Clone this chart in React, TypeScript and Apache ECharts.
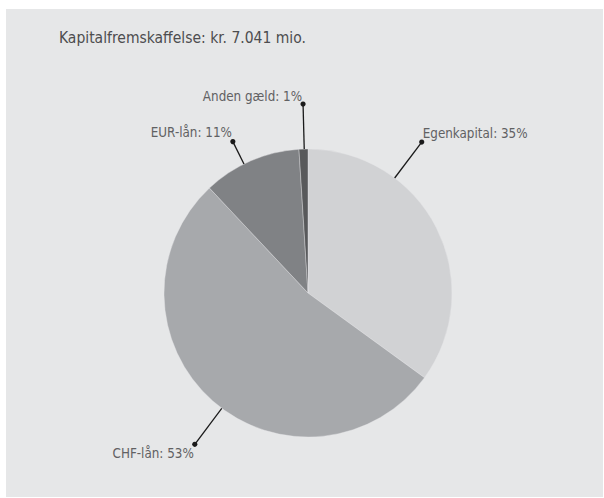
import React, { useEffect, useRef } from "react";
import * as echarts from "echarts";

const TITLE = "Kapitalfremskaffelse: kr. 7.041 mio.";
const categories = ["Egenkapital", "CHF-lån", "EUR-lån", "Anden gæld"];
const shares = [35, 53, 11, 1];

const SLICE_COLORS = ["#d1d2d4", "#a7a9ac", "#808285", "#58595b"];
const W = 604;
const H = 498;
const CX = 308;
const CY = 293;
const R = 144;
const FONT = "'DejaVu Sans Condensed', 'Liberation Sans Narrow', 'Noto Sans', sans-serif";

// per-label leader layout: angle shift from slice middle (deg), dot distance, text placement
const LEADER = [
  { shift: -26, dist: 189, align: "left", dx: 1, dy: -9 },
  { shift: -4.6, dist: 189, align: "right", dx: -1, dy: 9 },
  { shift: -3, dist: 169, align: "right", dx: -1, dy: -9 },
  { shift: 0.3, dist: 189, align: "right", dx: -1, dy: -8 },
];

function buildGraphics() {
  const total = shares.reduce((a, b) => a + b, 0);
  const els: any[] = [
    {
      type: "rect",
      z: -10,
      shape: { x: 6, y: 9, width: 597, height: 488 },
      style: { fill: "#e6e7e8" },
      silent: true,
    },
    {
      type: "text",
      z: 10,
      x: 59,
      y: 38,
      style: {
        text: TITLE,
        fill: "#4d4d4f",
        font: `15.5px ${FONT}`,
        textAlign: "left",
        textVerticalAlign: "middle",
      },
    },
  ];
  let acc = 0;
  shares.forEach((v, i) => {
    const mid = ((acc + v / 2) / total) * 360 + LEADER[i].shift;
    acc += v;
    const a = (mid * Math.PI) / 180;
    const ux = Math.sin(a);
    const uy = -Math.cos(a);
    const x1 = CX + ux * R;
    const y1 = CY + uy * R;
    const x2 = CX + ux * LEADER[i].dist;
    const y2 = CY + uy * LEADER[i].dist;
    els.push({
      type: "line",
      z: 10,
      shape: { x1, y1, x2, y2 },
      style: { stroke: "#1a1a1a", lineWidth: 1.3 },
    });
    els.push({
      type: "circle",
      z: 11,
      shape: { cx: x2, cy: y2, r: 2.6 },
      style: { fill: "#1a1a1a" },
    });
    els.push({
      type: "text",
      z: 11,
      x: x2 + LEADER[i].dx,
      y: y2 + LEADER[i].dy,
      style: {
        text: `${categories[i]}: ${v}%`,
        fill: "#616163",
        font: `13.3px ${FONT}`,
        textAlign: LEADER[i].align,
        textVerticalAlign: "middle",
      },
    });
  });
  return els;
}

export default function App() {
  const ref = useRef<HTMLDivElement>(null);
  useEffect(() => {
    if (!ref.current) return;
    const chart = echarts.init(ref.current, undefined, { renderer: "svg" });
    chart.setOption({
      animation: false,
      backgroundColor: "#ffffff",
      graphic: { elements: buildGraphics() },
      series: [
        {
          type: "pie",
          center: [CX, CY],
          radius: R,
          startAngle: 90,
          clockwise: true,
          label: { show: false },
          labelLine: { show: false },
          silent: true,
          itemStyle: { borderColor: "#e6e7e8", borderWidth: 0.4 },
          data: categories.map((c, i) => ({
            name: c,
            value: shares[i],
            itemStyle: { color: SLICE_COLORS[i] },
          })),
        },
      ],
    });
    return () => chart.dispose();
  }, []);
  return (
    <div
      ref={ref}
      style={{ position: "fixed", left: 0, top: 0, width: W, height: H }}
    />
  );
}
